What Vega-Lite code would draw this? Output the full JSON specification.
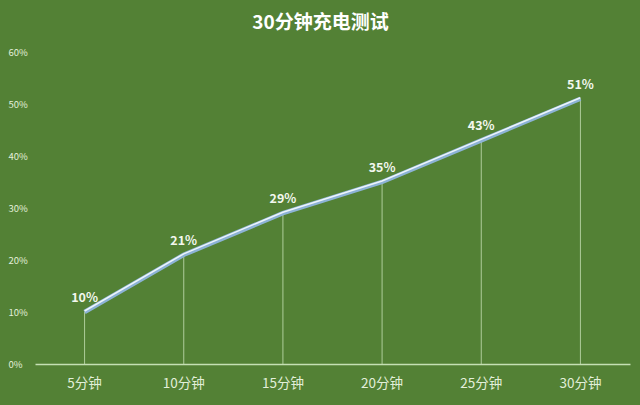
{
  "$schema": "https://vega.github.io/schema/vega-lite/v6.json",
  "autosize": "none",
  "width": 595,
  "height": 312,
  "padding": {"left": 35, "top": 52, "right": 10, "bottom": 41},
  "background": "#538135",
  "title": {
    "text": "30分钟充电测试",
    "font": "Noto Sans CJK SC",
    "fontSize": 19,
    "fontWeight": "bold",
    "color": "#ffffff",
    "dx": -12,
    "offset": 14
  },
  "config": {
    "view": {"stroke": null},
    "font": "Noto Sans CJK SC"
  },
  "data": {
    "values": [
      {"time": "5分钟", "pct": 0.10},
      {"time": "10分钟", "pct": 0.21},
      {"time": "15分钟", "pct": 0.29},
      {"time": "20分钟", "pct": 0.35},
      {"time": "25分钟", "pct": 0.43},
      {"time": "30分钟", "pct": 0.51}
    ]
  },
  "encoding": {
    "x": {
      "field": "time",
      "type": "nominal",
      "sort": null,
      "scale": {"paddingInner": 0, "paddingOuter": 0},
      "axis": {
        "title": null,
        "labelAngle": 0,
        "labelFontSize": 13.5,
        "labelColor": "#e2efda",
        "labelPadding": 12,
        "ticks": false,
        "domainColor": "#c5e0b4",
        "domainWidth": 1.5
      }
    },
    "y": {
      "field": "pct",
      "type": "quantitative",
      "scale": {"domain": [0, 0.6]},
      "axis": {
        "title": null,
        "format": ".0%",
        "values": [0, 0.1, 0.2, 0.3, 0.4, 0.5, 0.6],
        "labelOverlap": false,
        "grid": false,
        "domain": false,
        "ticks": false,
        "labelAlign": "left",
        "labelPadding": 27,
        "labelFontSize": 9.5,
        "labelColor": "#e2efda"
      }
    }
  },
  "layer": [
    {
      "mark": {"type": "rule", "color": "#c5e0b4", "strokeWidth": 1, "opacity": 0.8},
      "encoding": {"y2": {"datum": 0}}
    },
    {
      "mark": {"type": "line", "color": "#8db3d6", "strokeWidth": 4.5}
    },
    {
      "mark": {"type": "line", "color": "#eef5fb", "strokeWidth": 1.5, "yOffset": -1}
    },
    {
      "mark": {"type": "text", "dy": -14, "fontSize": 12.5, "fontWeight": "bold", "color": "#f2f7ee"},
      "encoding": {"text": {"field": "pct", "type": "quantitative", "format": ".0%"}}
    }
  ]
}
